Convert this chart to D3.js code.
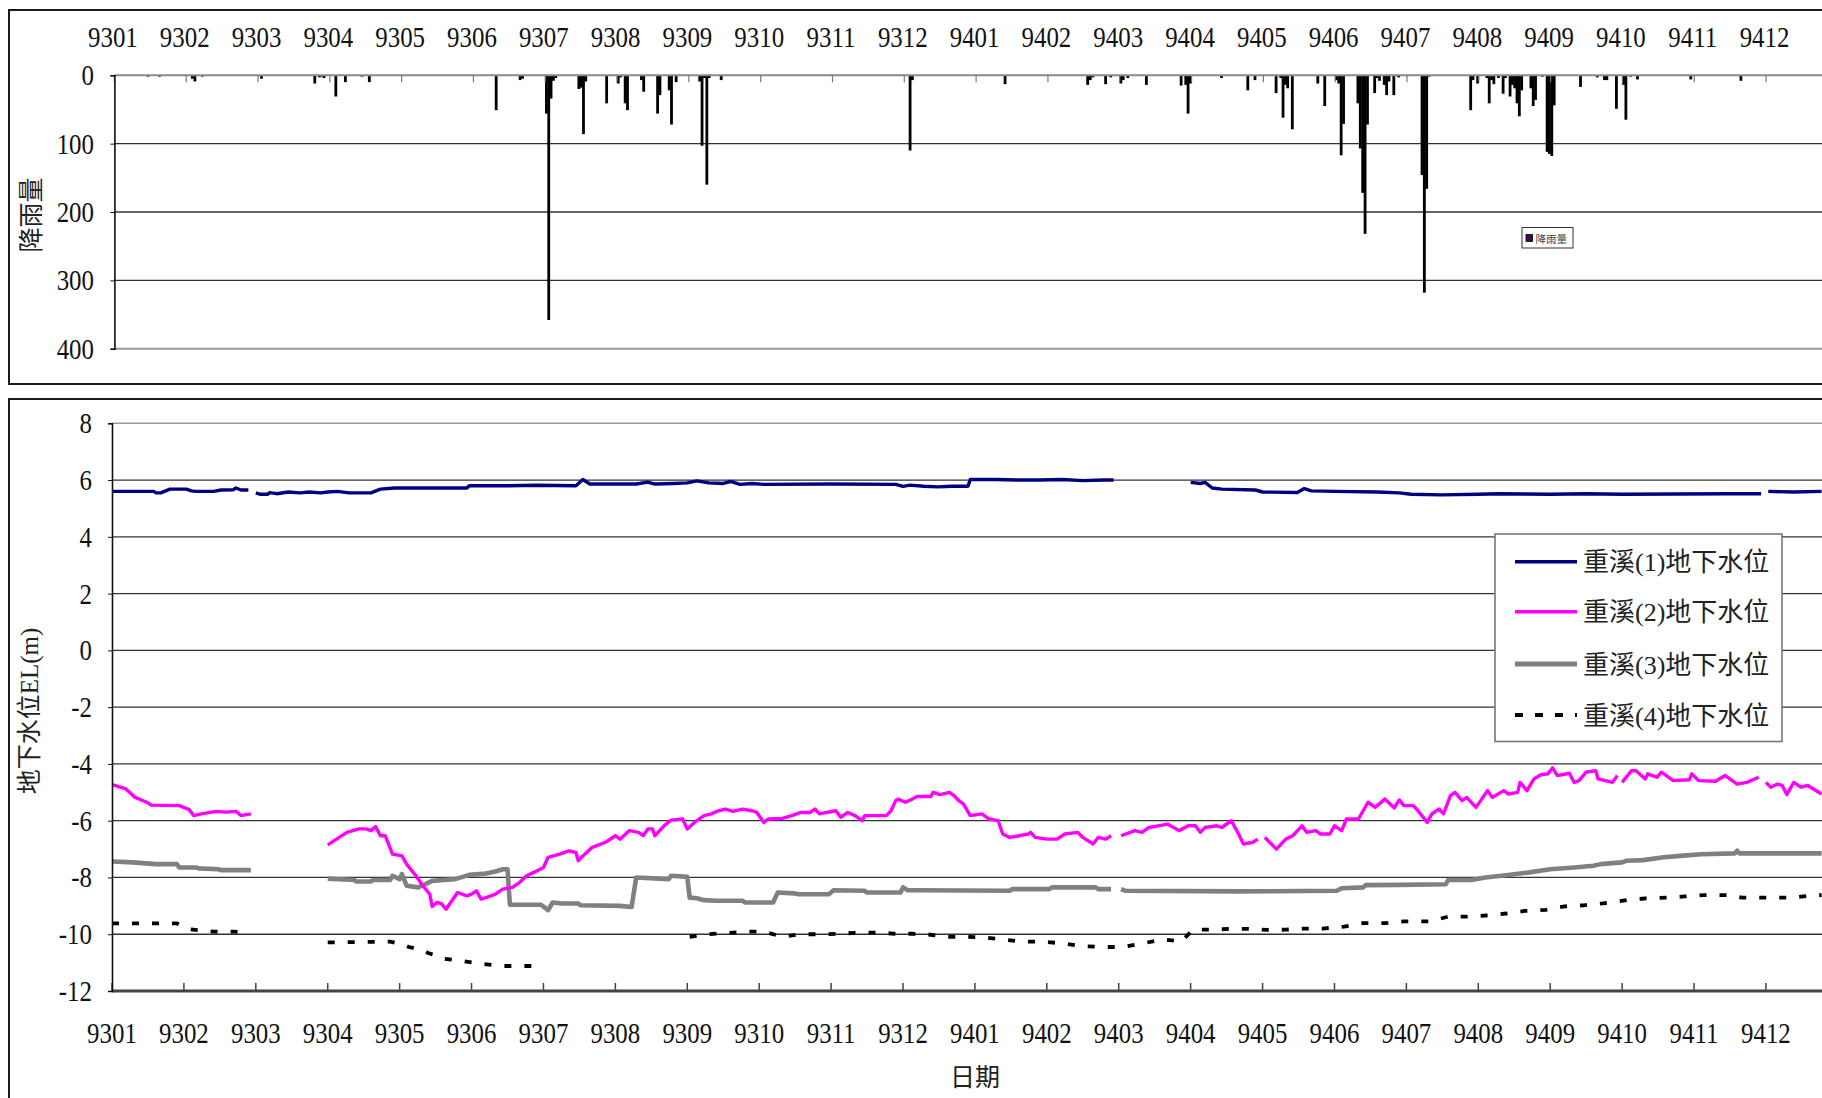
<!DOCTYPE html>
<html><head><meta charset="utf-8">
<script src="https://cdn.jsdelivr.net/npm/d3@7"></script>
<style>
html,body{margin:0;padding:0;background:#fff;}
svg{display:block;}
text{font-family:"Liberation Serif","Times New Roman","Noto Sans CJK TC",serif;}
</style></head><body>
<svg id="chart" width="1822" height="1098"></svg>
<script>
// ---------------- data ----------------
const monthLabels = ["9301","9302","9303","9304","9305","9306","9307","9308","9309","9310","9311","9312",
                     "9401","9402","9403","9404","9405","9406","9407","9408","9409","9410","9411","9412"];
const rainTicks = [0,100,200,300,400];
const levelTicks = [-12,-10,-8,-6,-4,-2,0,2,4,6,8];

const rainDates = ["2004-01-15","2004-01-20","2004-02-03","2004-02-04","2004-02-07","2004-03-02","2004-03-25","2004-03-27","2004-03-28","2004-03-29",
"2004-04-03","2004-04-07","2004-04-14","2004-04-17","2004-06-10","2004-06-20","2004-06-21","2004-07-01","2004-07-02","2004-07-03",
"2004-07-04","2004-07-05","2004-07-15","2004-07-16","2004-07-17","2004-07-18","2004-07-27","2004-08-01","2004-08-02","2004-08-04",
"2004-08-05","2004-08-11","2004-08-12","2004-08-18","2004-08-19","2004-08-23","2004-08-24","2004-08-26","2004-09-05","2004-09-06",
"2004-09-07","2004-09-08","2004-09-09","2004-09-14","2004-12-03","2004-12-04",
"2005-01-13","2005-02-16","2005-02-17","2005-02-18","2005-02-23","2005-02-25","2005-03-01","2005-03-02","2005-03-04","2005-03-12",
"2005-03-27","2005-03-29","2005-03-30","2005-03-31","2005-04-13","2005-04-24","2005-04-27","2005-05-06","2005-05-08","2005-05-09",
"2005-05-10","2005-05-11","2005-05-13","2005-05-24","2005-05-27","2005-06-01","2005-06-02","2005-06-03","2005-06-04","2005-06-10",
"2005-06-11","2005-06-12","2005-06-13","2005-06-14","2005-06-17","2005-06-18","2005-06-19","2005-06-21","2005-06-22","2005-06-23",
"2005-06-25","2005-06-27","2005-07-07","2005-07-08","2005-07-09","2005-07-10","2005-07-28","2005-07-29","2005-07-31","2005-08-04",
"2005-08-05","2005-08-06","2005-08-07","2005-08-09","2005-08-11","2005-08-12","2005-08-14","2005-08-15","2005-08-16","2005-08-17",
"2005-08-18","2005-08-19","2005-08-23","2005-08-24","2005-08-25","2005-08-28","2005-08-30","2005-08-31","2005-09-01","2005-09-02",
"2005-09-13","2005-09-20","2005-09-23","2005-09-24","2005-09-28","2005-10-01","2005-10-02","2005-10-04","2005-10-07","2005-10-30",
"2005-11-20"];
const rainValues = [2,2,5,9,2,5,12,3,2,4,
31,10,2,10,51,7,5,56,358,34,
8,4,20,18,86,9,41,12,3,41,
51,7,24,56,29,22,72,10,9,103,
4,160,4,7,110,7,
13,14,7,3,13,3,12,7,4,14,
15,14,56,12,4,22,7,26,4,62,
14,19,79,12,45,7,12,117,71,41,
107,172,232,72,26,4,8,14,29,9,
29,3,146,318,166,2,51,7,12,4,
41,7,13,4,27,4,31,14,19,41,
60,22,19,45,36,2,112,115,118,44,
17,3,7,7,49,14,65,2,6,6,
8];

const s1Dates = ["2004-01-01","2004-01-19","2004-01-20","2004-01-22","2004-01-26","2004-02-02","2004-02-04","2004-02-06","2004-02-13","2004-02-16",
"2004-02-21","2004-02-22","2004-02-24","2004-02-27","2004-02-28","2004-03-01","2004-03-03","2004-03-06","2004-03-07","2004-03-10",
"2004-03-15","2004-03-20","2004-03-24","2004-03-29","2004-04-01","2004-04-05","2004-04-10","2004-04-19","2004-04-23","2004-04-29",
"2004-05-30","2004-05-31","2004-06-16","2004-06-28","2004-07-15","2004-07-18","2004-07-21","2004-08-10","2004-08-15","2004-08-18",
"2004-08-26","2004-09-01","2004-09-05","2004-09-10","2004-09-16","2004-09-19","2004-09-23","2004-09-28","2004-10-03","2004-11-01",
"2004-11-28","2004-12-01","2004-12-04","2004-12-10","2004-12-16","2004-12-22","2004-12-29","2004-12-30","2005-01-10","2005-01-19",
"2005-01-29","2005-02-07","2005-02-15","2005-02-23","2005-02-27","2005-02-28","2005-04-01","2005-04-05","2005-04-07","2005-04-10",
"2005-04-14","2005-04-28","2005-05-01","2005-05-16","2005-05-19","2005-05-22","2005-06-01","2005-06-19","2005-06-28","2005-07-03",
"2005-07-16","2005-08-01","2005-08-10","2005-09-01","2005-09-16","2005-10-01","2005-11-16","2005-11-29","2005-11-30","2005-12-02",
"2005-12-13","2005-12-25"];
const s1Values = [5.60,5.60,5.55,5.55,5.68,5.68,5.62,5.60,5.60,5.65,
5.66,5.72,5.65,5.65,null,5.55,5.50,5.50,5.56,5.52,
5.58,5.55,5.58,5.55,5.58,5.60,5.55,5.55,5.68,5.72,
5.72,5.80,5.80,5.82,5.80,6.02,5.86,5.86,5.93,5.86,
5.88,5.90,5.97,5.90,5.88,5.95,5.85,5.88,5.85,5.86,
5.85,5.78,5.82,5.78,5.76,5.78,5.78,6.02,6.02,6.00,
6.00,6.02,5.98,6.00,6.00,null,5.92,5.88,5.92,5.72,
5.68,5.65,5.58,5.56,5.70,5.62,5.60,5.58,5.55,5.50,
5.48,5.50,5.52,5.50,5.52,5.50,5.52,5.52,null,5.60,
5.58,5.60];

const s2Dates = ["2004-01-01","2004-01-07","2004-01-11","2004-01-16","2004-01-18","2004-01-30","2004-02-03","2004-02-05","2004-02-08","2004-02-14",
"2004-02-18","2004-02-22","2004-02-24","2004-02-28","2004-03-01","2004-04-01","2004-04-02","2004-04-09","2004-04-14","2004-04-17",
"2004-04-19","2004-04-21","2004-04-23","2004-04-25","2004-04-28","2004-05-02","2004-05-04","2004-05-08","2004-05-11","2004-05-14",
"2004-05-15","2004-05-17","2004-05-19","2004-05-21","2004-05-23","2004-05-26","2004-05-30","2004-06-01","2004-06-03","2004-06-05",
"2004-06-07","2004-06-11","2004-06-14","2004-06-18","2004-06-21","2004-06-24","2004-06-27","2004-06-29","2004-07-01","2004-07-03",
"2004-07-08","2004-07-12","2004-07-15","2004-07-16","2004-07-18","2004-07-22","2004-07-28","2004-08-01","2004-08-03","2004-08-07",
"2004-08-11","2004-08-13","2004-08-15","2004-08-17","2004-08-18","2004-08-22","2004-08-25","2004-08-30","2004-09-01","2004-09-04",
"2004-09-08","2004-09-11","2004-09-14","2004-09-17","2004-09-20","2004-09-24","2004-09-28","2004-09-30","2004-10-03","2004-10-05",
"2004-10-11","2004-10-15","2004-10-19","2004-10-23","2004-10-25","2004-10-27","2004-10-30","2004-11-03","2004-11-05","2004-11-08",
"2004-11-11","2004-11-14","2004-11-15","2004-11-20","2004-11-24","2004-11-26","2004-11-28","2004-11-29","2004-12-02","2004-12-05",
"2004-12-07","2004-12-13","2004-12-14","2004-12-17","2004-12-21","2004-12-23","2004-12-25","2004-12-27","2004-12-30","2005-01-04",
"2005-01-07","2005-01-11","2005-01-13","2005-01-16","2005-01-20","2005-01-24","2005-01-25","2005-01-27","2005-02-01","2005-02-05",
"2005-02-08","2005-02-13","2005-02-15","2005-02-19","2005-02-21","2005-02-24","2005-02-26","2005-02-28","2005-03-02","2005-03-08",
"2005-03-11","2005-03-14","2005-03-18","2005-03-22","2005-03-27","2005-03-31","2005-04-03","2005-04-05","2005-04-07","2005-04-12",
"2005-04-14","2005-04-18","2005-04-21","2005-04-23","2005-04-27","2005-04-29","2005-04-30","2005-05-02","2005-05-07","2005-05-11",
"2005-05-14","2005-05-18","2005-05-20","2005-05-24","2005-05-26","2005-05-30","2005-06-01","2005-06-04","2005-06-06","2005-06-11",
"2005-06-15","2005-06-18","2005-06-22","2005-06-26","2005-06-28","2005-06-30","2005-07-04","2005-07-06","2005-07-10","2005-07-12",
"2005-07-15","2005-07-17","2005-07-20","2005-07-22","2005-07-25","2005-07-27","2005-07-31","2005-08-05","2005-08-07","2005-08-12",
"2005-08-14","2005-08-18","2005-08-19","2005-08-22","2005-08-25","2005-08-28","2005-08-31","2005-09-02","2005-09-04","2005-09-09",
"2005-09-11","2005-09-13","2005-09-16","2005-09-20","2005-09-21","2005-09-24","2005-09-27","2005-09-29","2005-09-30","2005-10-01",
"2005-10-05","2005-10-07","2005-10-11","2005-10-12","2005-10-16","2005-10-18","2005-10-23","2005-10-30","2005-10-31","2005-11-03",
"2005-11-10","2005-11-14","2005-11-19","2005-11-23","2005-11-28","2005-11-30","2005-12-01","2005-12-03","2005-12-06","2005-12-08",
"2005-12-10","2005-12-13","2005-12-16","2005-12-19","2005-12-25"];
const s2Values = [-4.73,-4.88,-5.18,-5.35,-5.45,-5.47,-5.60,-5.82,-5.76,-5.67,
-5.70,-5.67,-5.82,-5.76,null,-6.85,-6.80,-6.41,-6.29,-6.29,
-6.35,-6.21,-6.53,-6.53,-7.18,-7.24,-7.53,-7.94,-8.29,-8.59,
-9.02,-8.88,-8.92,-9.12,-8.88,-8.53,-8.65,-8.59,-8.47,-8.76,
-8.71,-8.59,-8.41,-8.35,-8.18,-7.94,-7.82,-7.74,-7.65,-7.29,
-7.18,-7.06,-7.12,-7.41,-7.24,-6.94,-6.75,-6.53,-6.65,-6.35,
-6.41,-6.53,-6.29,-6.29,-6.53,-6.18,-5.98,-5.94,-6.29,-6.06,
-5.82,-5.76,-5.65,-5.59,-5.67,-5.59,-5.65,-5.71,-6.06,-5.94,
-5.92,-5.82,-5.71,-5.71,-5.59,-5.76,-5.71,-5.65,-5.88,-5.71,
-5.82,-6.00,-5.82,-5.82,-5.82,-5.65,-5.29,-5.24,-5.35,-5.24,
-5.15,-5.15,-5.00,-5.08,-5.00,-5.12,-5.29,-5.41,-5.82,-5.76,
-5.94,-6.00,-6.47,-6.59,-6.53,-6.47,-6.41,-6.59,-6.65,-6.65,
-6.47,-6.41,-6.59,-6.82,-6.59,-6.65,-6.53,null,-6.53,-6.35,
-6.41,-6.24,-6.18,-6.12,-6.35,-6.18,-6.18,-6.41,-6.24,-6.18,
-6.24,-6.00,-6.47,-6.82,-6.76,-6.65,null,-6.59,-7.00,-6.65,
-6.53,-6.18,-6.41,-6.35,-6.47,-6.47,-6.18,-6.35,-5.94,-5.94,
-5.35,-5.53,-5.24,-5.55,-5.27,-5.47,-5.47,-5.65,-6.06,-5.76,
-5.59,-5.76,-5.12,-5.00,-5.29,-5.18,-5.53,-4.94,-5.18,-4.94,
-5.06,-5.00,-4.65,-4.94,-4.53,-4.38,-4.35,-4.14,-4.41,-4.33,
-4.65,-4.59,-4.29,-4.24,-4.53,-4.59,-4.65,-4.41,null,-4.65,
-4.24,-4.24,-4.53,-4.35,-4.47,-4.29,-4.59,-4.56,-4.35,-4.59,
-4.61,-4.41,-4.71,-4.65,-4.47,null,-4.65,-4.82,-4.71,-4.76,
-5.08,-4.65,-4.82,-4.76,-5.06];

const s3Dates = ["2004-01-01","2004-01-10","2004-01-20","2004-01-29","2004-01-30","2004-02-06","2004-02-07","2004-02-15","2004-02-16","2004-02-28",
"2004-03-01","2004-04-01","2004-04-12","2004-04-13","2004-04-19","2004-04-20","2004-04-27","2004-04-28","2004-05-01","2004-05-02",
"2004-05-04","2004-05-09","2004-05-12","2004-05-15","2004-05-20","2004-05-25","2004-05-31","2004-06-07","2004-06-11","2004-06-14",
"2004-06-16","2004-06-17","2004-06-30","2004-07-03","2004-07-05","2004-07-09","2004-07-16","2004-07-17","2004-08-03","2004-08-08",
"2004-08-10","2004-08-24","2004-08-25","2004-09-01","2004-09-02","2004-09-05","2004-09-08","2004-09-13","2004-09-24","2004-09-25",
"2004-10-07","2004-10-09","2004-10-16","2004-10-18","2004-10-31","2004-11-02","2004-11-15","2004-11-16","2004-11-30","2004-12-01",
"2004-12-03","2004-12-07","2005-01-16","2005-01-17","2005-02-02","2005-02-03","2005-02-20","2005-02-21","2005-02-26","2005-02-28",
"2005-03-02","2005-03-04","2005-04-21","2005-06-02","2005-06-04","2005-06-13","2005-06-14","2005-06-28","2005-07-18","2005-07-19",
"2005-07-29","2005-08-04","2005-08-11","2005-08-23","2005-09-01","2005-09-11","2005-09-19","2005-09-22","2005-10-01","2005-10-03",
"2005-10-10","2005-10-19","2005-10-26","2005-11-04","2005-11-18","2005-11-19","2005-11-20","2005-12-25"];
const s3Values = [-7.44,-7.47,-7.53,-7.53,-7.65,-7.65,-7.68,-7.71,-7.74,-7.74,
null,-8.04,-8.09,-8.14,-8.14,-8.09,-8.09,-7.94,-8.06,-7.88,
-8.29,-8.35,-8.24,-8.12,-8.09,-8.06,-7.91,-7.86,-7.79,-7.71,
-7.71,-8.96,-8.96,-9.15,-8.88,-8.92,-8.92,-8.98,-9.00,-9.04,
-8.00,-8.06,-7.94,-7.98,-8.71,-8.73,-8.80,-8.82,-8.82,-8.88,
-8.88,-8.53,-8.56,-8.59,-8.59,-8.45,-8.47,-8.53,-8.53,-8.35,
-8.45,-8.45,-8.47,-8.41,-8.41,-8.35,-8.35,-8.41,-8.41,null,
-8.41,-8.47,-8.49,-8.47,-8.38,-8.35,-8.27,-8.26,-8.24,-8.09,
-8.09,-8.00,-7.94,-7.82,-7.71,-7.65,-7.59,-7.53,-7.47,-7.41,
-7.39,-7.29,-7.24,-7.18,-7.15,-7.06,-7.15,-7.15];

const s4Dates = ["2004-01-01","2004-01-29","2004-02-03","2004-02-13","2004-02-21","2004-02-27","2004-03-01","2004-04-01","2004-04-27","2004-05-02",
"2004-05-05","2004-05-11","2004-05-13","2004-05-20","2004-05-28","2004-06-05","2004-06-14","2004-06-29","2004-07-01","2004-09-02",
"2004-09-10","2004-09-19","2004-09-26","2004-10-03","2004-10-11","2004-10-19","2004-10-28","2004-11-05","2004-11-14","2004-11-22",
"2004-11-29","2004-12-04","2004-12-11","2004-12-20","2004-12-29","2005-01-06","2005-01-14","2005-01-22","2005-01-30","2005-02-08",
"2005-02-15","2005-02-23","2005-03-03","2005-03-11","2005-03-20","2005-03-28","2005-04-02","2005-04-10","2005-04-18","2005-04-25",
"2005-05-03","2005-05-11","2005-05-19","2005-05-27","2005-06-05","2005-06-13","2005-06-22","2005-06-30","2005-07-11","2005-07-19",
"2005-07-27","2005-08-04","2005-08-13","2005-08-21","2005-08-30","2005-09-07","2005-09-15","2005-09-23","2005-10-03","2005-10-11",
"2005-10-20","2005-10-28","2005-11-05","2005-11-16","2005-11-21","2005-12-03","2005-12-11","2005-12-20","2005-12-25"];
const s4Values = [-9.62,-9.62,-9.82,-9.91,-9.91,-9.94,null,-10.29,-10.26,-10.35,
-10.45,-10.56,-10.65,-10.86,-10.94,-11.04,-11.12,-11.12,null,-10.09,
-10.00,-9.95,-9.91,-9.91,-10.09,-10.00,-10.00,-9.98,-9.94,-9.94,
-10.00,-9.98,-10.00,-10.09,-10.09,-10.12,-10.20,-10.26,-10.26,-10.33,
-10.42,-10.45,-10.45,-10.33,-10.18,-10.26,-9.84,-9.84,-9.81,-9.81,
-9.85,-9.84,-9.80,-9.80,-9.73,-9.61,-9.61,-9.55,-9.55,-9.38,
-9.38,-9.34,-9.27,-9.18,-9.14,-9.02,-8.98,-8.91,-8.80,-8.74,
-8.71,-8.67,-8.62,-8.62,-8.71,-8.71,-8.71,-8.65,-8.62];

const seriesNames = ["重溪(1)地下水位","重溪(2)地下水位","重溪(3)地下水位","重溪(4)地下水位"];
const rainName = "降雨量";

// ---------------- styles ----------------
const seriesStyles = [
  {color:"#000080", width:3.4, dash:null},
  {color:"#FF00FF", width:3.4, dash:null},
  {color:"#808080", width:4.6, dash:null},
  {color:"#000000", width:3.8, dash:"7,13"}
];
const CONDENSE = 0.83;

// ---------------- helpers ----------------
function monthPos(str){
  const [y,m,d] = str.split("-").map(Number);
  const dim = new Date(y, m, 0).getDate();
  return (y-2004)*12 + (m-1) + (d-1)/dim;
}
function daysIn(str){
  const [y,m] = str.split("-").map(Number);
  return new Date(y, m, 0).getDate();
}

const svg = d3.select("#chart");
svg.append("rect").attr("width",1822).attr("height",1098).attr("fill","#fff");

function numText(g, x, y, str, anchor, size){
  return g.append("text")
    .attr("transform", `translate(${x},${y}) scale(${CONDENSE},1)`)
    .attr("text-anchor", anchor)
    .attr("font-size", size)
    .attr("fill", "#111")
    .text(str);
}

// ---------------- scales ----------------
const xT = d3.scaleLinear().domain([0,24]).range([114.4, 114.4 + 24*71.81]);
const yT = d3.scaleLinear().domain([0,400]).range([75.3, 348.7]);
const xB = d3.scaleLinear().domain([0,24]).range([112, 112 + 24*71.91]);
const yB = d3.scaleLinear().domain([-12,8]).range([991, 423.3]);

// ---------------- panel frames ----------------
svg.append("rect").attr("x",9).attr("y",10).attr("width",1900).attr("height",374)
  .attr("fill","none").attr("stroke","#1a1a1a").attr("stroke-width",2);
svg.append("rect").attr("x",9).attr("y",399).attr("width",1900).attr("height",900)
  .attr("fill","none").attr("stroke","#1a1a1a").attr("stroke-width",2);

// ================= TOP PANEL (rainfall) =================
const topG = svg.append("g");
const xEnd = 1822;
rainTicks.forEach(v => {
  if (v === 0) return;
  topG.append("line").attr("x1", xT(0)).attr("x2", xEnd).attr("y1", yT(v)).attr("y2", yT(v))
    .attr("stroke", v === 400 ? "#9a9a9a" : "#333").attr("stroke-width", v === 400 ? 2 : 1.3);
});
const rain = rainDates.map((d,i)=>({date:d, v:rainValues[i]}));
topG.selectAll("rect.bar").data(rain).enter().append("rect").attr("class","bar")
  .attr("x", d => xT(monthPos(d.date) + 0.5/daysIn(d.date)) - 1.4)
  .attr("y", yT(0))
  .attr("width", 2.8)
  .attr("height", d => yT(d.v) - yT(0))
  .attr("fill", "#000");
topG.append("line").attr("x1", xT(0)).attr("x2", xEnd).attr("y1", yT(0)).attr("y2", yT(0))
  .attr("stroke","#8a8a8a").attr("stroke-width",2);
d3.range(0,24).forEach(i => {
  topG.append("line").attr("x1", xT(i)).attr("x2", xT(i)).attr("y1", yT(0)).attr("y2", yT(0)+7)
    .attr("stroke","#777").attr("stroke-width",1.2);
});
const yAxisT = topG.append("g").attr("transform", `translate(${xT(0)},0)`)
  .call(d3.axisLeft(yT).tickValues(rainTicks).tickSize(4).tickFormat(""));
yAxisT.select(".domain").attr("stroke","#111").attr("stroke-width",1.6);
yAxisT.selectAll(".tick line").attr("stroke","#111");
rainTicks.forEach(v => numText(topG, 94, yT(v) + 10, String(v), "end", 30));
monthLabels.forEach((lab,i) => numText(topG, xT(i) - 1.5, 46.5, lab, "middle", 30));
topG.append("text").attr("transform","translate(31,215) rotate(-90)")
  .attr("text-anchor","middle").attr("dy","0.36em").attr("font-size",25).attr("fill","#222")
  .style("font-family","'Noto Sans CJK TC','Noto Sans CJK SC',sans-serif").text(rainName);
const tl = topG.append("g");
tl.append("rect").attr("x",1522).attr("y",227.5).attr("width",51).attr("height",20.5)
  .attr("fill","#fff").attr("stroke","#333").attr("stroke-width",1);
tl.append("rect").attr("x",1526).attr("y",234.5).attr("width",6.5).attr("height",7)
  .attr("fill","#400a50").attr("stroke","#000").attr("stroke-width",0.8);
tl.append("text").attr("x",1535.5).attr("y",242.5).attr("font-size",10.5).attr("fill","#444")
  .style("font-family","'Noto Sans CJK TC','Noto Sans CJK SC',sans-serif").text(rainName);

// ================= BOTTOM PANEL (groundwater) =================
const botG = svg.append("g");
levelTicks.forEach(v => {
  if (v === -12) return;
  botG.append("line").attr("x1", xB(0)).attr("x2", xEnd).attr("y1", yB(v)).attr("y2", yB(v))
    .attr("stroke", v === 8 ? "#9a9a9a" : "#333").attr("stroke-width", v === 8 ? 1.6 : 1.3);
});

const seriesData = [
  s1Dates.map((d,i)=>({date:d, v:s1Values[i]})),
  s2Dates.map((d,i)=>({date:d, v:s2Values[i]})),
  s3Dates.map((d,i)=>({date:d, v:s3Values[i]})),
  s4Dates.map((d,i)=>({date:d, v:s4Values[i]}))
];
const lineGen = d3.line()
  .defined(d => d.v !== null)
  .x(d => xB(monthPos(d.date)))
  .y(d => yB(d.v));

[2,3,1,0].forEach(k => {
  const st = seriesStyles[k];
  botG.append("path").datum(seriesData[k])
    .attr("d", lineGen)
    .attr("fill","none")
    .attr("stroke", st.color)
    .attr("stroke-width", st.width)
    .attr("stroke-linejoin","round")
    .attr("stroke-dasharray", st.dash);
});

botG.append("line").attr("x1", xB(0)).attr("x2", xEnd).attr("y1", yB(-12)).attr("y2", yB(-12))
  .attr("stroke","#444").attr("stroke-width",3);
d3.range(0,24).forEach(i => {
  botG.append("line").attr("x1", xB(i)).attr("x2", xB(i)).attr("y1", yB(-12)).attr("y2", yB(-12)-8)
    .attr("stroke","#444").attr("stroke-width",1.5);
});
monthLabels.forEach((lab,i) => numText(botG, xB(i), 1042.5, lab, "middle", 30));

const yAxisB = botG.append("g").attr("transform", `translate(${xB(0)},0)`)
  .call(d3.axisLeft(yB).tickValues(levelTicks).tickSize(4).tickFormat(""));
yAxisB.select(".domain").attr("stroke","#111").attr("stroke-width",1.6);
yAxisB.selectAll(".tick line").attr("stroke","#111");
levelTicks.forEach(v => numText(botG, 92, yB(v) + 10, String(v), "end", 30));

botG.append("text").attr("x",975).attr("y",1086).attr("text-anchor","middle")
  .attr("font-size",25).attr("fill","#222")
  .style("font-family","'Noto Sans CJK TC','Noto Sans CJK SC',sans-serif").text("日期");
botG.append("text").attr("transform","translate(29,711) rotate(-90)")
  .attr("text-anchor","middle").attr("dy","0.36em").attr("font-size",25).attr("fill","#222")
  .text("地下水位EL(m)");

const lg = botG.append("g");
lg.append("rect").attr("x",1495).attr("y",534).attr("width",287).attr("height",207.5)
  .attr("fill","#fff").attr("stroke","#777").attr("stroke-width",1.6);
const legY = [561.7, 611.7, 664, 715];
seriesNames.forEach((name,k) => {
  const st = seriesStyles[k];
  lg.append("line").attr("x1",1515).attr("x2",1577).attr("y1",legY[k]).attr("y2",legY[k])
    .attr("stroke",st.color).attr("stroke-width", k===2 ? 5 : st.width)
    .attr("stroke-dasharray", st.dash ? "8,12" : null);
  lg.append("text").attr("x",1583).attr("y",legY[k]+9.5).attr("font-size",26).attr("fill","#222")
    .text(name);
});
</script>
</body></html>
